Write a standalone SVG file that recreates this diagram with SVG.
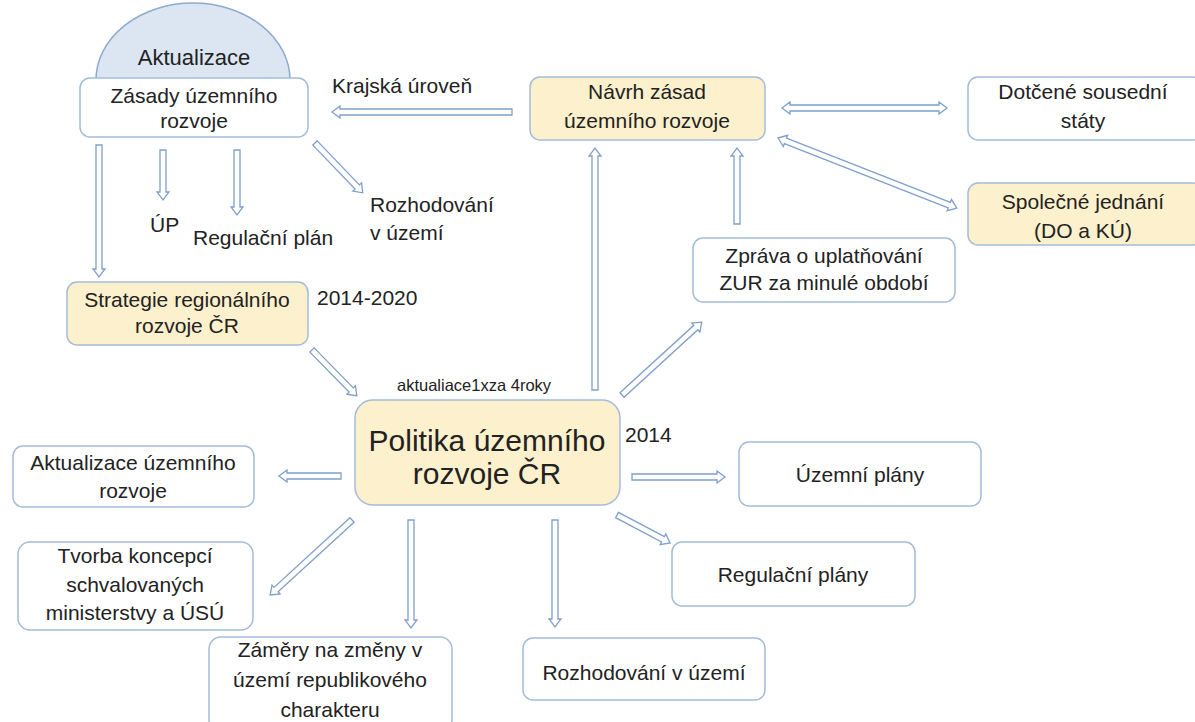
<svg xmlns="http://www.w3.org/2000/svg" width="1195" height="722" viewBox="0 0 1195 722">
<style>
.box{fill:#ffffff;stroke:#a3bcdc;stroke-width:1.5}
.hl{fill:#fdf0cc;stroke:#a3bcdc;stroke-width:1.5}
.arr{fill:#ffffff;stroke:#7f9fcb;stroke-width:1.3;stroke-linejoin:miter}
text{font-family:"Liberation Sans",Arial,sans-serif;font-size:21px;fill:#222222}
text.big{font-size:30px}
text.small{font-size:16.5px}
text.dome{font-size:22px}
.c{text-anchor:middle}
</style>
<rect width="1195" height="722" fill="#ffffff"/>

<g id="connectors">
<path class="arr" transform="translate(512,112) rotate(180)" d="M0,-3H172V-6L180,0L172,6V3H0Z"/>
<path class="arr" transform="translate(782,108)" d="M0,0L8,-6V-3H157V-6L165,0L157,6V3H8V6Z"/>
<path class="arr" transform="translate(778,138) rotate(21.4)" d="M0,0L8,-6V-3H184V-6L192,0L184,6V3H8V6Z"/>
<path class="arr" transform="translate(737,224) rotate(-90)" d="M0,-3H68V-6L76,0L68,6V3H0Z"/>
<path class="arr" transform="translate(595,390) rotate(-90)" d="M0,-3H234V-6L242,0L234,6V3H0Z"/>
<path class="arr" transform="translate(622,395) rotate(-42.4)" d="M0,-3H100V-6L108,0L100,6V3H0Z"/>
<path class="arr" transform="translate(99,145) rotate(90)" d="M0,-3H124V-6L132,0L124,6V3H0Z"/>
<path class="arr" transform="translate(163,150) rotate(90)" d="M0,-3H42V-6L50,0L42,6V3H0Z"/>
<path class="arr" transform="translate(237,150) rotate(90)" d="M0,-3H57V-6L65,0L57,6V3H0Z"/>
<path class="arr" transform="translate(315,143) rotate(46.2)" d="M0,-3H61V-6L69,0L61,6V3H0Z"/>
<path class="arr" transform="translate(312,350) rotate(45.6)" d="M0,-3H56V-6L64,0L56,6V3H0Z"/>
<path class="arr" transform="translate(341,476) rotate(180)" d="M0,-3H54V-6L62,0L54,6V3H0Z"/>
<path class="arr" transform="translate(632,477)" d="M0,-3H85V-6L93,0L85,6V3H0Z"/>
<path class="arr" transform="translate(617,515) rotate(27.8)" d="M0,-3H52V-6L60,0L52,6V3H0Z"/>
<path class="arr" transform="translate(352,520) rotate(137.5)" d="M0,-3H103V-6L111,0L103,6V3H0Z"/>
<path class="arr" transform="translate(411,520) rotate(90)" d="M0,-3H100V-6L108,0L100,6V3H0Z"/>
<path class="arr" transform="translate(555,520) rotate(90)" d="M0,-3H99V-6L107,0L99,6V3H0Z"/>
</g>

<g id="zasady">
<path d="M96,80 A97,77 0 0 1 290,80 Z" fill="#dce6f2" stroke="#8eaad0" stroke-width="1.5"/>
<text class="c dome" x="194" y="65">Aktualizace</text>
<rect class="box" x="80" y="78" width="228" height="59" rx="10"/>
<text class="c" x="194" y="103">Zásady územního</text>
<text class="c" x="194" y="128">rozvoje</text>
</g>

<g id="krajska">
<text x="332" y="93">Krajská úroveň</text>
</g>

<g id="navrh">
<rect class="hl" x="530" y="77" width="235" height="63" rx="10"/>
<text class="c" x="647" y="99">Návrh zásad</text>
<text class="c" x="647" y="128">územního rozvoje</text>
</g>

<g id="dotcene">
<rect class="box" x="968" y="77" width="235" height="63" rx="10"/>
<text class="c" x="1083" y="99">Dotčené sousední</text>
<text class="c" x="1083" y="128">státy</text>
</g>

<g id="spolecne">
<rect class="hl" x="968" y="183" width="235" height="62" rx="10"/>
<text class="c" x="1083" y="209">Společné jednání</text>
<text class="c" x="1083" y="238">(DO a KÚ)</text>
</g>

<g id="zprava">
<rect class="box" x="693" y="238" width="262" height="64" rx="10"/>
<text class="c" x="824" y="263">Zpráva o uplatňování</text>
<text class="c" x="824" y="290">ZUR za minulé období</text>
</g>

<g id="labels-zur">
<text x="150" y="232">ÚP</text>
<text x="193" y="245">Regulační plán</text>
<text x="370" y="212">Rozhodování</text>
<text x="370" y="240">v území</text>
</g>

<g id="strategie">
<rect class="hl" x="67" y="282" width="241" height="63" rx="10"/>
<text class="c" x="187" y="307">Strategie regionálního</text>
<text class="c" x="187" y="333">rozvoje ČR</text>
<text x="317" y="305">2014-2020</text>
</g>

<g id="politika">
<text class="small" x="397" y="391">aktualiace1xza 4roky</text>
<rect class="hl" x="355" y="400" width="265" height="105" rx="18"/>
<text class="c big" x="487" y="451">Politika územního</text>
<text class="c big" x="487" y="484">rozvoje ČR</text>
<text x="625" y="442">2014</text>
</g>

<g id="aktualizace-ur">
<rect class="box" x="13" y="446" width="241" height="61" rx="10"/>
<text class="c" x="133" y="470">Aktualizace územního</text>
<text class="c" x="133" y="498">rozvoje</text>
</g>

<g id="uzemni-plany">
<rect class="box" x="739" y="442" width="242" height="64" rx="10"/>
<text class="c" x="860" y="482">Územní plány</text>
</g>

<g id="regulacni-plany">
<rect class="box" x="672" y="542" width="243" height="64" rx="10"/>
<text class="c" x="793" y="582">Regulační plány</text>
</g>

<g id="tvorba">
<rect class="box" x="18" y="542" width="235" height="88" rx="12"/>
<text class="c" x="135" y="563">Tvorba koncepcí</text>
<text class="c" x="135" y="592">schvalovaných</text>
<text class="c" x="135" y="620">ministerstvy a ÚSÚ</text>
</g>

<g id="zamery">
<rect class="box" x="209" y="637" width="243" height="95" rx="12"/>
<text class="c" x="330" y="657">Záměry na změny v</text>
<text class="c" x="330" y="687">území republikového</text>
<text class="c" x="330" y="717">charakteru</text>
</g>

<g id="rozhodovani">
<rect class="box" x="523" y="638" width="242" height="62" rx="10"/>
<text class="c" x="644" y="680">Rozhodování v území</text>
</g>
</svg>
